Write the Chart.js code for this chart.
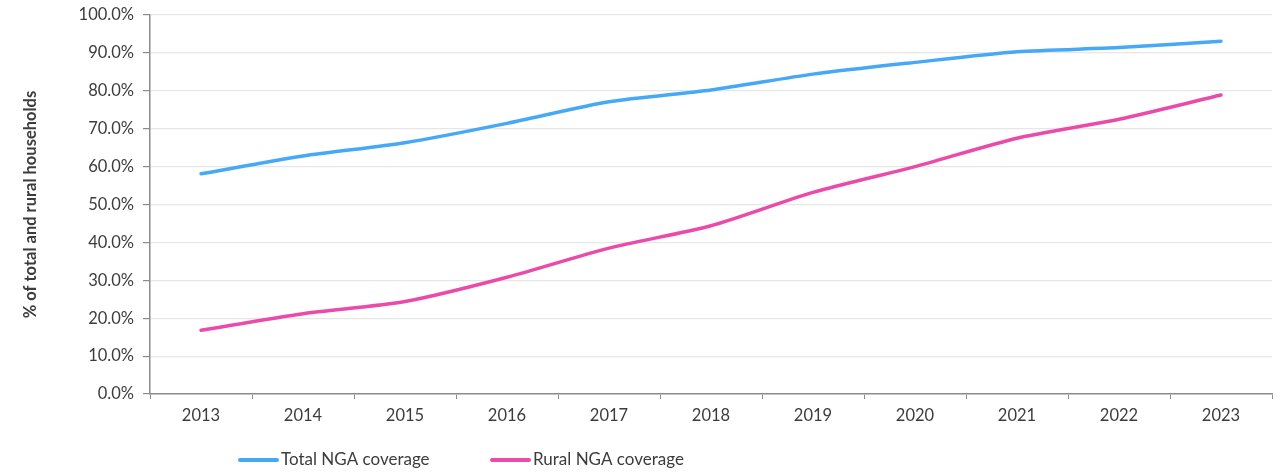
<!DOCTYPE html>
<html>
<head>
<meta charset="utf-8">
<script src="https://cdn.jsdelivr.net/npm/chart.js@4/dist/chart.umd.min.js"></script>
<style>
  html, body { margin: 0; padding: 0; background: #ffffff; }
  #wrap { width: 1281px; height: 472px; position: relative; }
</style>
</head>
<body>
<div id="wrap"><canvas id="c" width="1281" height="472"></canvas></div>
<script>
const years = ['2013','2014','2015','2016','2017','2018','2019','2020','2021','2022','2023'];
const totalNGA = [58.1, 62.8, 66.3, 71.4, 77.1, 80.2, 84.4, 87.5, 90.3, 91.4, 93.1];
const ruralNGA = [16.8, 21.2, 24.4, 30.8, 38.5, 44.4, 53.2, 60.0, 67.5, 72.5, 78.9];
const seriesNames = ['Total NGA coverage', 'Rural NGA coverage'];
const yAxisTitle = '% of total and rural households';

const FONT = 'Lato, "Open Sans", "Liberation Sans", sans-serif';
const TEXT = '#3c3c3c';
const BLUE = '#47a9f5';
const PINK = '#ea4aa9';

const legendPlugin = {
  id: 'customLegend',
  afterDraw(chart) {
    const ctx = chart.ctx;
    const items = [
      { x: 240, color: BLUE, label: chart.data.datasets[0].label },
      { x: 492, color: PINK, label: chart.data.datasets[1].label }
    ];
    const y = 460;
    ctx.save();
    ctx.font = '17px ' + FONT;
    ctx.textBaseline = 'middle';
    ctx.textAlign = 'left';
    items.forEach(it => {
      ctx.strokeStyle = it.color;
      ctx.lineWidth = 4;
      ctx.lineCap = 'round';
      ctx.beginPath();
      ctx.moveTo(it.x, y);
      ctx.lineTo(it.x + 37, y);
      ctx.stroke();
      ctx.fillStyle = TEXT;
      ctx.fillText(it.label, it.x + 41, y);
    });
    ctx.restore();
  }
};

new Chart(document.getElementById('c'), {
  type: 'line',
  data: {
    labels: years,
    datasets: [
      { label: seriesNames[0], data: totalNGA, borderColor: BLUE, backgroundColor: BLUE,
        borderWidth: 3.5, pointRadius: 0, tension: 0.25, fill: false, borderCapStyle: 'round' },
      { label: seriesNames[1], data: ruralNGA, borderColor: PINK, backgroundColor: PINK,
        borderWidth: 3.5, pointRadius: 0, tension: 0.25, fill: false, borderCapStyle: 'round' }
    ]
  },
  options: {
    responsive: false,
    animation: false,
    devicePixelRatio: 1,
    layout: { padding: { left: 0, top: 15, right: 9, bottom: 48 } },
    plugins: {
      legend: { display: false },
      tooltip: { enabled: false }
    },
    scales: {
      x: {
        type: 'category',
        offset: true,
        grid: { display: true, offset: true, drawOnChartArea: false, tickLength: 5, tickColor: '#8c8c8c', tickWidth: 1 },
        border: { display: true, color: '#8c8c8c', width: 1.5 },
        ticks: { color: TEXT, font: { family: FONT, size: 16.5 }, padding: 7, maxRotation: 0 },
        afterFit(scale) { scale.height = 30; scale.paddingLeft = 0; scale.paddingRight = 0; }
      },
      y: {
        min: 0,
        max: 100,
        ticks: {
          stepSize: 10,
          color: TEXT,
          font: { family: FONT, size: 16.5 },
          padding: 9,
          callback: v => v.toFixed(1) + '%'
        },
        grid: { color: '#e6e6e6', lineWidth: 1.2, tickLength: 7, tickColor: '#8c8c8c', drawTicks: true },
        border: { display: true, color: '#8c8c8c', width: 1.5 },
        title: {
          display: true,
          text: yAxisTitle,
          color: TEXT,
          font: { family: FONT, size: 16.5, weight: 'bold' },
          padding: { top: 21, bottom: 0 }
        },
        afterFit(scale) { scale.width = 150; scale.paddingTop = 0; scale.paddingBottom = 0; }
      }
    }
  },
  plugins: [legendPlugin]
});
</script>
</body>
</html>
